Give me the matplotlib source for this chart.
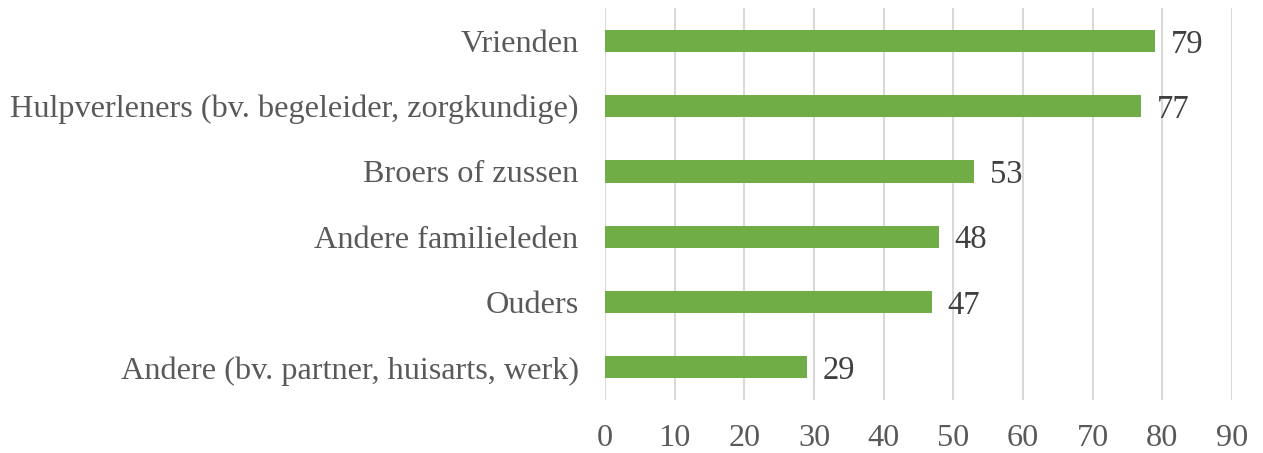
import matplotlib
matplotlib.use("Agg")
import matplotlib.pyplot as plt

categories = ["Vrienden", "Hulpverleners (bv. begeleider, zorgkundige)", "Broers of zussen",
              "Andere familieleden", "Ouders", "Andere (bv. partner, huisarts, werk)"]
values = [79, 77, 53, 48, 47, 29]
xticks = [0, 10, 20, 30, 40, 50, 60, 70, 80, 90]

plt.rcParams['font.family'] = ['Liberation Serif', 'DejaVu Serif']

fig = plt.figure(figsize=(12.63, 4.53), dpi=100)
ax = fig.add_axes([0.479, 0.117, 0.4965, 0.865])

n = len(categories)
ypos = list(range(n))[::-1]
ax.barh(ypos, values, height=0.34, color="#70AD47", zorder=3)
for y, v in zip(ypos, values):
    ax.annotate(str(v), (v, y), xytext=(11, 0), textcoords="offset points",
                va="center_baseline", ha="left", fontsize=23.5, color="#404040")

ax.set_xlim(0, 90)
ax.set_ylim(-0.5, n - 0.5)
ax.set_xticks(xticks)
ax.set_xticklabels([str(t) for t in xticks])
ax.set_yticks(ypos)
ax.set_yticklabels(categories)
ax.tick_params(axis='both', length=0, labelsize=23.2, labelcolor="#595959")
ax.tick_params(axis='y', pad=19)
ax.tick_params(axis='x', pad=17)
ax.grid(axis='x', color="#D9D9D9", linewidth=1.5, zorder=0)
for s in ax.spines.values():
    s.set_visible(False)

fig.savefig("out.png", dpi=100)
